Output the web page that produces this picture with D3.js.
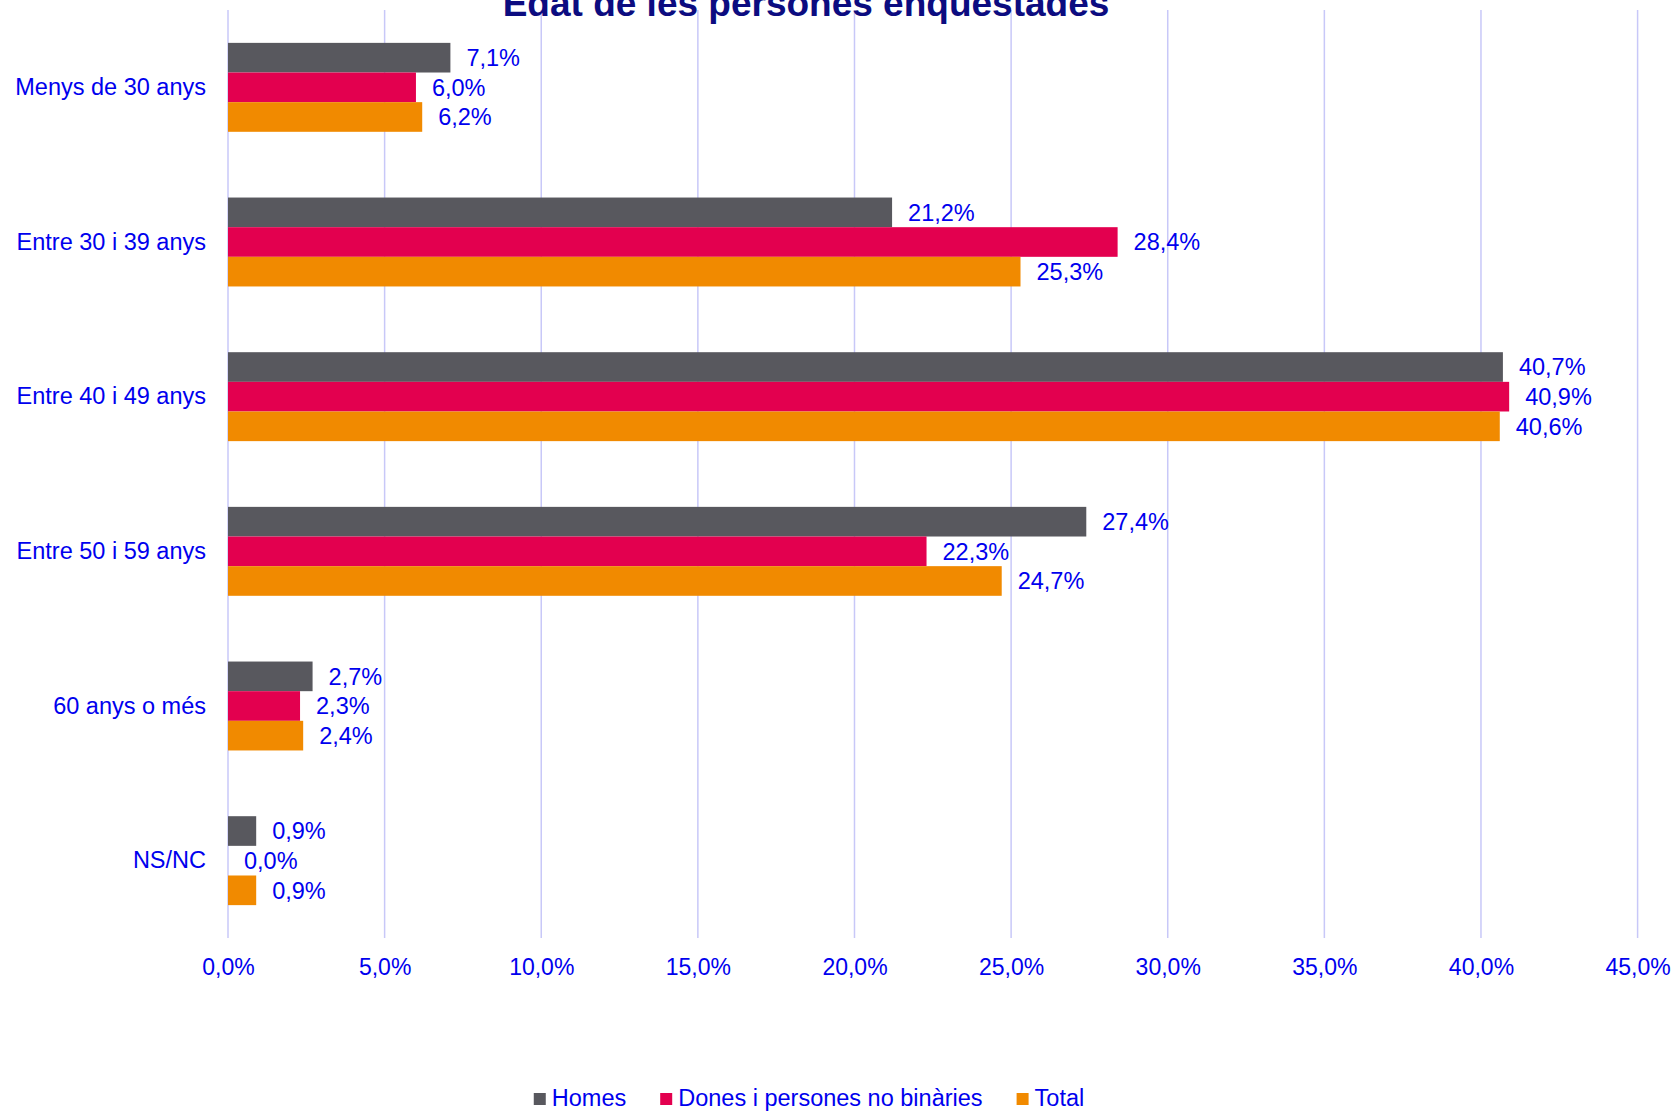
<!DOCTYPE html>
<html>
<head>
<meta charset="utf-8">
<script src="https://cdn.jsdelivr.net/npm/d3@7"></script>
<style>
  html, body { margin: 0; padding: 0; background: #fff; overflow: hidden; }
  svg text { font-family: Arial, "Liberation Sans", sans-serif; }
</style>
</head>
<body>
<div id="chart"></div>
<script>
// dades
const categories = ["Menys de 30 anys", "Entre 30 i 39 anys", "Entre 40 i 49 anys", "Entre 50 i 59 anys", "60 anys o més", "NS/NC"];
const seriesNames = ["Homes", "Dones i persones no binàries", "Total"];
const homes = [7.1, 21.2, 40.7, 27.4, 2.7, 0.9];
const dones = [6.0, 28.4, 40.9, 22.3, 2.3, 0.0];
const total = [6.2, 25.3, 40.6, 24.7, 2.4, 0.9];
const ticks = [0, 5, 10, 15, 20, 25, 30, 35, 40, 45];
const colors = ["#58585e", "#e3004f", "#f18a00"];

const W = 1673, H = 1111;
const textBlue = "#0000ee";
const fmt = v => v.toFixed(1).replace(".", ",") + "%";

const values = [homes, dones, total];
const rows = [];
categories.forEach((c, i) => {
  seriesNames.forEach((s, j) => rows.push({ cat: c, serie: s, value: values[j][i], k: j }));
});

const svg = d3.select("#chart").append("svg")
  .attr("width", W)
  .attr("height", H);

const x = d3.scaleLinear().domain([0, 45]).range([228, 1637.6]);
const y = d3.scaleBand().domain(categories).range([10, 938])
  .paddingInner(0.425).paddingOuter(0.2125);
const ySub = d3.scaleBand().domain(seriesNames).range([0, y.bandwidth()]);

// gridlines
svg.append("g").selectAll("line")
  .data(ticks)
  .join("line")
  .attr("x1", d => x(d)).attr("x2", d => x(d))
  .attr("y1", 10).attr("y2", 938)
  .attr("stroke", "#c8c8f8")
  .attr("stroke-width", 1.5);

// eix x
const xAxis = svg.append("g")
  .attr("transform", "translate(0,938)")
  .call(d3.axisBottom(x).tickValues(ticks).tickSize(0).tickPadding(20.5)
    .tickFormat(d => d.toFixed(1).replace(".", ",") + "%"));
xAxis.select(".domain").remove();
xAxis.selectAll("text")
  .style("font-size", "23px")
  .attr("fill", textBlue);

// eix y
const yAxis = svg.append("g")
  .attr("transform", "translate(228,0)")
  .call(d3.axisLeft(y).tickSize(0).tickPadding(22));
yAxis.select(".domain").remove();
yAxis.selectAll("text")
  .style("font-size", "23.5px")
  .attr("fill", textBlue);

// barres
svg.append("g").selectAll("rect")
  .data(rows)
  .join("rect")
  .attr("x", x(0))
  .attr("y", d => y(d.cat) + ySub(d.serie))
  .attr("height", ySub.bandwidth())
  .attr("width", d => x(d.value) - x(0))
  .attr("fill", d => colors[d.k]);

// etiquetes
svg.append("g").selectAll("text")
  .data(rows)
  .join("text")
  .attr("x", d => x(d.value) + 16)
  .attr("y", d => y(d.cat) + ySub(d.serie) + ySub.bandwidth() / 2)
  .attr("dy", "0.35em")
  .style("font-size", "23.5px")
  .attr("fill", textBlue)
  .text(d => fmt(d.value));

// títol
svg.append("text")
  .attr("x", 806)
  .attr("y", 16)
  .attr("text-anchor", "middle")
  .style("font-size", "37px")
  .style("font-weight", "bold")
  .attr("fill", "#0c0c80")
  .text("Edat de les persones enquestades");

// llegenda
const legend = svg.append("g");
let lx = 0;
seriesNames.forEach((s, i) => {
  const g = legend.append("g").attr("transform", `translate(${lx},0)`);
  g.append("rect").attr("x", 0).attr("y", -13).attr("width", 12).attr("height", 12)
    .attr("fill", colors[i]);
  const t = g.append("text").attr("x", 18).attr("y", 0)
    .style("font-size", "23.5px")
    .attr("fill", textBlue)
    .text(s);
  lx += 18 + t.node().getComputedTextLength() + 34;
});
const legendW = lx - 34;
legend.attr("transform", `translate(${809 - legendW / 2},1106)`);
</script>
</body>
</html>
